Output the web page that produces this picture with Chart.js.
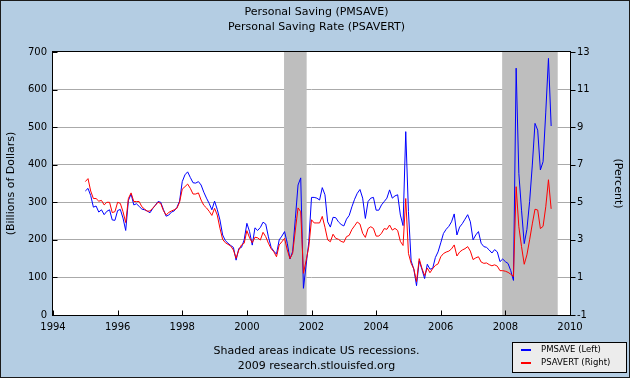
<!DOCTYPE html>
<html>
<head>
<meta charset="utf-8">
<title>Personal Saving</title>
<script src="https://cdn.jsdelivr.net/npm/chart.js@4.4.0/dist/chart.umd.min.js"></script>
<style>
  html, body { margin: 0; padding: 0; background: #b4cde3; }
  #chart { display: block; }
</style>
</head>
<body>
<canvas id="chart" width="630" height="378"></canvas>
<script>
(function () {
  'use strict';

  const Chart = window.Chart;

  // Monthly series, first value is January 1995
  const startYear = 1995;

  // Personal Saving, billions of dollars (left axis)
  const pmsave = [
    330, 337, 318, 287, 290, 274, 280, 267, 276, 280, 253, 252,
    278, 281, 258, 225, 305, 322, 293, 296, 289, 282, 280, 277,
    272, 283, 292, 302, 300, 281, 263, 266, 274, 277, 286, 303,
    355, 373, 381, 366, 352, 351, 355, 346, 327, 311, 297, 280,
    303, 281, 253, 213, 198, 191, 185, 180, 146, 177, 180, 200,
    244, 222, 186, 232, 225, 233, 247, 242, 208, 180, 170, 162,
    200, 210, 222, 191, 149, 169, 257, 346, 365, 71, 133, 195,
    313, 313, 311, 306, 339, 320, 248, 234, 260, 259, 248, 241,
    237, 255, 265, 288, 308, 324, 334, 311, 257, 302, 311, 313,
    279, 279, 293, 302, 311, 333, 311, 317, 320, 266, 238, 488,
    275, 144, 122, 78, 144, 122, 97, 135, 122, 124, 153, 168,
    192, 217, 228, 236, 248, 269, 213, 234, 243, 255, 267, 248,
    200, 213, 222, 191, 182, 180, 173, 165, 174, 168, 142, 149,
    142, 137, 118, 92, 657, 377, 279, 190, 228, 302, 399, 510,
    492, 386, 408, 540, 683, 503
  ];

  // Personal Saving Rate, percent (right axis)
  const psavert = [
    6.1, 6.26, 5.6, 5.2, 5.2, 5.06, 5.1, 4.86, 5.0, 5.0, 4.45, 4.5,
    5.0, 4.94, 4.5, 3.92, 5.2, 5.5, 5.04, 5.04, 5.04, 4.76, 4.64, 4.52,
    4.54, 4.68, 4.84, 5.0, 4.94, 4.56, 4.32, 4.46, 4.54, 4.6, 4.68, 5.0,
    5.7, 5.83, 5.97, 5.74, 5.44, 5.44, 5.5, 5.12, 4.84, 4.7, 4.52, 4.3,
    4.68, 4.32, 3.62, 3.02, 2.85, 2.76, 2.67, 2.46, 2.02, 2.46, 2.73, 2.82,
    3.49, 3.11, 2.85, 3.14, 3.11, 2.99, 3.4, 3.17, 2.82, 2.53, 2.37, 2.1,
    2.73, 2.9, 3.08, 2.46, 2.0, 2.28, 3.52, 4.7, 4.5, 1.22, 1.9, 2.64,
    4.07, 3.9, 3.9, 3.9, 4.25, 3.67, 3.0, 2.9, 3.3, 3.08, 3.03, 2.92,
    2.87, 3.17, 3.24, 3.55, 3.75, 3.95, 3.84, 3.35, 3.13, 3.6, 3.7, 3.61,
    3.2, 3.2, 3.35, 3.6, 3.56, 3.79, 3.52, 3.61, 3.5, 2.92, 2.7, 5.2,
    2.28, 1.75, 1.45, 0.78, 2.0, 1.49, 1.1, 1.5, 1.25, 1.47, 1.64, 1.72,
    2.1, 2.27, 2.35, 2.4, 2.52, 2.73, 2.14, 2.35, 2.46, 2.53, 2.64, 2.4,
    1.95, 2.04, 2.1, 1.82, 1.75, 1.77, 1.68, 1.62, 1.67, 1.6, 1.36, 1.36,
    1.33, 1.27, 1.17, 1.05, 5.83, 3.7, 2.64, 1.7, 2.2, 3.0, 3.85, 4.63,
    4.59, 3.6, 3.72, 4.76, 6.2, 4.65
  ];

  // Recession periods (decimal years)
  const recessions = [[2001.15, 2001.85], [2007.9, 2009.62]];

  const titleLines = ['Personal Saving (PMSAVE)', 'Personal Saving Rate (PSAVERT)'];
  const footerLines = ['Shaded areas indicate US recessions.', '2009 research.stlouisfed.org'];
  const seriesLabels = ['PMSAVE (Left)', 'PSAVERT (Right)'];
  const seriesColours = ['#0000ff', '#ff0000'];

  const fontFamily = '"DejaVu Sans", Verdana, sans-serif';
  const background = '#b4cde3';


  function toPoints(values) {
    return values.map((v, i) => ({ x: startYear + i / 12, y: v }));
  }


  /**
   * Draws the FRED style decorations: panel, recession bars, frame,
   * tick marks, titles, footer and legend box
   */
  const fredPlugin = {
    id: 'fredDecor',

    beforeDraw(chart) {
      const { ctx, chartArea: a, width, height } = chart;
      ctx.save();
      ctx.fillStyle = background;
      ctx.fillRect(0, 0, width, height);
      ctx.fillStyle = '#ffffff';
      ctx.fillRect(a.left, a.top, a.right - a.left, a.bottom - a.top);
      ctx.restore();
    },

    beforeDatasetsDraw(chart) {
      const { ctx, chartArea: a } = chart;
      const x = chart.scales.x;
      ctx.save();
      ctx.fillStyle = '#bebebe';
      recessions.forEach(([from, to]) => {
        const x0 = x.getPixelForValue(from);
        const x1 = Math.min(x.getPixelForValue(to), a.right);
        ctx.fillRect(x0, a.top, x1 - x0, a.bottom - a.top);
      });
      ctx.restore();
    },

    afterDraw(chart) {
      const { ctx, chartArea: a, width, height } = chart;
      const { x, yLeft, yRight } = chart.scales;
      const left = Math.round(a.left) - 0.5;
      const right = Math.round(a.right) + 0.5;
      const top = Math.round(a.top) - 0.5;
      const bottom = Math.round(a.bottom) + 0.5;

      ctx.save();
      ctx.strokeStyle = '#000000';
      ctx.lineWidth = 1;

      // plot frame
      ctx.strokeRect(left, top, right - left, bottom - top);

      // tick marks
      ctx.beginPath();
      yLeft.ticks.forEach((t) => {
        const py = Math.round(yLeft.getPixelForValue(t.value)) + 0.5;
        ctx.moveTo(left, py);
        ctx.lineTo(left + 5, py);
      });
      yRight.ticks.forEach((t) => {
        const py = Math.round(yRight.getPixelForValue(t.value)) + 0.5;
        ctx.moveTo(right, py);
        ctx.lineTo(right + 5, py);
      });
      x.ticks.forEach((t) => {
        const px = Math.round(x.getPixelForValue(t.value)) + 0.5;
        ctx.moveTo(px, bottom);
        ctx.lineTo(px, bottom - 5);
      });
      ctx.stroke();

      // titles and footer
      const centre = (a.left + a.right) / 2 + 5;
      ctx.fillStyle = '#000000';
      ctx.textAlign = 'center';
      ctx.textBaseline = 'middle';
      ctx.font = '11px ' + fontFamily;
      ctx.fillText(titleLines[0], centre, 12);
      ctx.fillText(titleLines[1], centre, 27);
      ctx.fillText(footerLines[0], centre, 351);
      ctx.fillText(footerLines[1], centre, 366);

      // legend box
      const lx = 512, ly = 342, lw = 115, lh = 31;
      ctx.fillStyle = '#ececec';
      ctx.fillRect(lx, ly, lw, lh);
      ctx.strokeRect(lx + 0.5, ly + 0.5, lw - 1, lh - 1);
      ctx.font = '8.5px ' + fontFamily;
      ctx.textAlign = 'left';
      seriesLabels.forEach((label, i) => {
        const ry = ly + 8 + i * 13;
        ctx.fillStyle = seriesColours[i];
        ctx.fillRect(lx + 9, ry - 1, 10, 2);
        ctx.fillStyle = '#000000';
        ctx.fillText(label, lx + 29, ry);
      });

      // outer border
      ctx.strokeStyle = '#1a1a1a';
      ctx.strokeRect(0.5, 0.5, width - 1, height - 1);
      ctx.restore();
    }
  };


  function initSavingChart(elementId) {
    const ctx = document.getElementById(elementId).getContext('2d');
    const tickFont = { family: fontFamily, size: 10 };
    const titleFont = { family: fontFamily, size: 11 };

    window.savingChart = new Chart(ctx, {
      type: 'line',
      data: {
        datasets: [
          {
            label: seriesLabels[1],
            data: toPoints(psavert),
            yAxisID: 'yRight',
            borderColor: seriesColours[1],
            borderWidth: 1,
            pointRadius: 0,
            tension: 0,
            order: 0
          },
          {
            label: seriesLabels[0],
            data: toPoints(pmsave),
            yAxisID: 'yLeft',
            borderColor: seriesColours[0],
            borderWidth: 1,
            pointRadius: 0,
            tension: 0,
            order: 1
          }
        ]
      },
      options: {
        responsive: false,
        animation: false,
        devicePixelRatio: 1,
        layout: { padding: { top: 52, left: 0, right: 0, bottom: 0 } },
        plugins: {
          legend: { display: false },
          title: { display: false },
          tooltip: { enabled: false }
        },
        scales: {
          x: {
            type: 'linear',
            min: 1994,
            max: 2010,
            border: { display: false },
            grid: { display: false, drawTicks: false },
            ticks: {
              stepSize: 2,
              padding: 6,
              color: '#000000',
              font: tickFont,
              maxRotation: 0,
              callback: (v) => String(v)
            },
            afterFit: (scale) => { scale.height = 63; }
          },
          yLeft: {
            type: 'linear',
            position: 'left',
            min: 0,
            max: 700,
            border: { display: false },
            grid: {
              drawTicks: false,
              color: (c) => (c.tick && (c.tick.value === 0 || c.tick.value === 700)) ? 'rgba(0,0,0,0)' : '#aaaaaa'
            },
            ticks: { stepSize: 100, padding: 6, color: '#000000', font: tickFont },
            title: {
              display: true,
              text: '(Billions of Dollars)',
              color: '#000000',
              font: titleFont,
              padding: { top: 5, bottom: 0 }
            },
            afterFit: (scale) => { scale.width = 53; }
          },
          yRight: {
            type: 'linear',
            position: 'right',
            min: -1,
            max: 13,
            border: { display: false },
            grid: { drawOnChartArea: false, drawTicks: false },
            ticks: { stepSize: 2, padding: 7, color: '#000000', font: tickFont },
            title: {
              display: true,
              text: '(Percent)',
              color: '#000000',
              font: titleFont,
              padding: { top: 6, bottom: 0 }
            },
            afterFit: (scale) => { scale.width = 60; }
          }
        }
      },
      plugins: [fredPlugin]
    });
  }


  window.onload = function () {
    initSavingChart('chart');
  };

})();
</script>
</body>
</html>
